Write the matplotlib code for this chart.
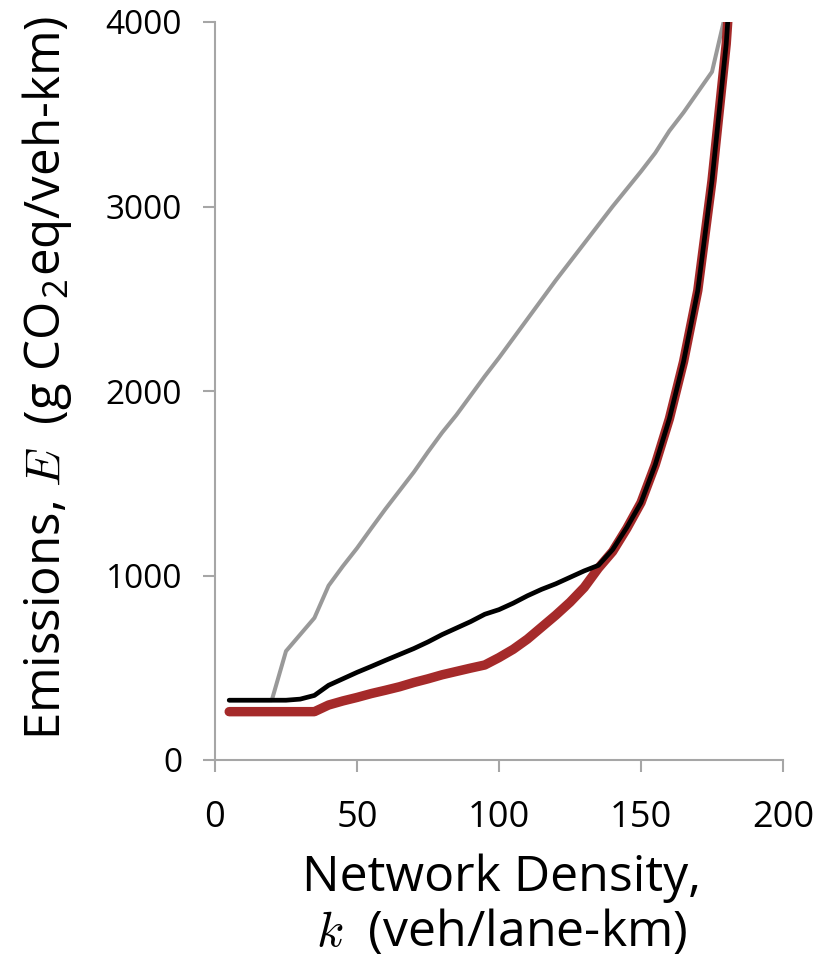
import numpy as np
import matplotlib
matplotlib.use("Agg")
from matplotlib import pyplot as plt

# network density (veh/lane-km)
density = [5, 10, 15, 20, 25, 30, 35, 40, 45, 50, 55, 60, 65, 70, 75, 80, 85, 90,
           95, 100, 105, 110, 115, 120, 125, 130, 135, 140, 145, 150, 155, 160,
           165, 170, 175, 180, 185]

# emissions (g CO2eq/veh-km)
emis_gray = [324, 324, 324, 324, 590, 680, 770, 945, 1050, 1148, 1255, 1360,
             1460, 1560, 1670, 1775, 1870, 1975, 2080, 2180, 2285, 2390, 2495,
             2600, 2700, 2800, 2900, 3000, 3095, 3190, 3290, 3410, 3510, 3620,
             3730, 4060, 5000]
emis_black = [324, 324, 324, 324, 324, 330, 350, 405, 440, 475, 507, 540, 572,
              604, 640, 680, 715, 750, 790, 815, 850, 890, 925, 955, 990, 1025,
              1055, 1140, 1260, 1395, 1600, 1850, 2160, 2545, 3140, 3880, 5000]
emis_red = [262, 262, 262, 262, 262, 262, 262, 298, 320, 339, 360, 378, 397,
            420, 440, 462, 480, 498, 515, 555, 600, 655, 720, 785, 855, 935,
            1040, 1130, 1255, 1395, 1600, 1850, 2160, 2545, 3140, 3880, 5000]

x_ticks = [0, 50, 100, 150, 200]
y_ticks = [0, 1000, 2000, 3000, 4000]

plt.rcParams["font.family"] = ["Open Sans", "DejaVu Sans"]
plt.rcParams["mathtext.fontset"] = "cm"

fig = plt.figure(figsize=(8.31, 9.69), dpi=100)
ax = fig.add_axes([215 / 831, 1 - 760 / 969, 568 / 831, 738 / 969])

ax.plot(density, emis_gray, color="#999999", lw=2.9, solid_capstyle="round",
        solid_joinstyle="round", zorder=2)
ax.plot(density, emis_red, color="#A52A2A", lw=6.8, solid_capstyle="round",
        solid_joinstyle="round", zorder=3)
ax.plot(density, emis_black, color="black", lw=3.4, solid_capstyle="round",
        solid_joinstyle="round", zorder=4)

ax.set_xlim(0, 200)
ax.set_ylim(0, 4000)
ax.set_xticks(x_ticks)
ax.set_yticks(y_ticks)

for side in ["top", "right"]:
    ax.spines[side].set_visible(False)
for side in ["left", "bottom"]:
    ax.spines[side].set_color("#a6a6a6")
    ax.spines[side].set_linewidth(1.5)

ax.tick_params(axis="both", direction="out", length=8.6, width=1.5,
               color="#a6a6a6")
ax.tick_params(axis="x", labelsize=26, pad=20)
ax.tick_params(axis="y", labelsize=24, pad=15)

fig.text(47 / 831, 1 - 378 / 969,
         r"Emissions, $E$  (g CO$_\mathregular{2}$eq/veh-km)",
         rotation=90, ha="center", va="center", fontsize=35.5)
fig.text(502 / 831, 1 - 878 / 969, "Network Density,",
         ha="center", va="center", fontsize=36)
fig.text(502 / 831, 1 - 933 / 969, r"$k$  (veh/lane-km)",
         ha="center", va="center", fontsize=36)

fig.savefig("out.png", dpi=100)
